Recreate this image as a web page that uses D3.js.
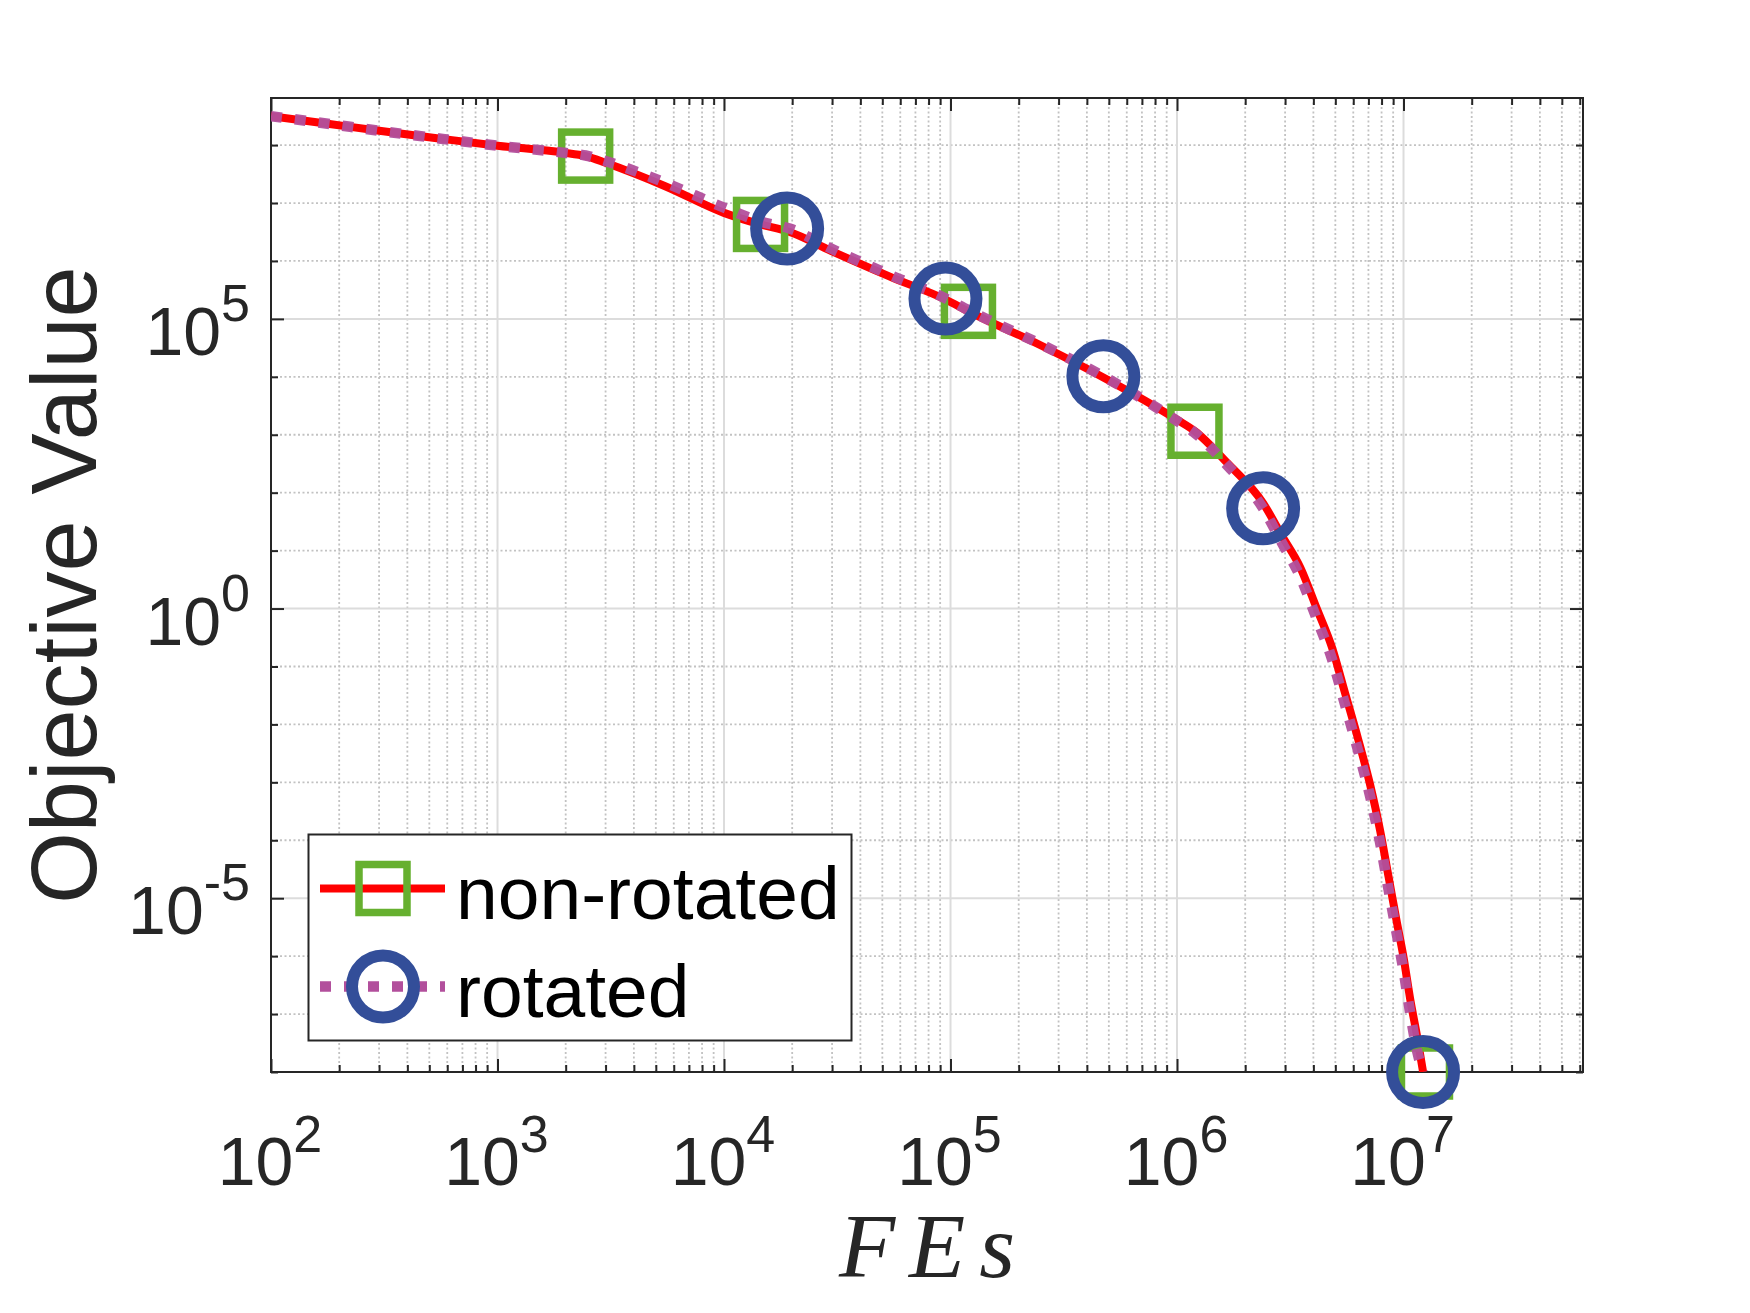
<!DOCTYPE html>
<html>
<head>
<meta charset="utf-8">
<script src="https://cdn.jsdelivr.net/npm/d3@7"></script>
<style>
  html, body { margin: 0; padding: 0; background: #fff; }
  svg { display: block; }
</style>
</head>
<body>
<svg id="chart" width="1750" height="1313"></svg>
<script>
// 横轴：函数评价次数
const fes = [1.00e2, 1.78e2, 2.95e2, 5.62e2, 1.00e3, 1.95e3, 2.45e3, 3.02e3, 5.50e3, 1.00e4,
  1.45e4, 1.95e4, 2.95e4, 5.40e4, 9.55e4, 1.20e5, 2.51e5, 4.73e5, 1.00e6, 1.20e6,
  1.66e6, 2.40e6, 2.90e6, 3.50e6, 4.14e6, 4.83e6, 5.52e6, 6.31e6, 7.13e6, 7.89e6,
  8.59e6, 9.35e6, 1.00e7, 1.07e7, 1.15e7, 1.22e7];

// 两条收敛曲线
const nonRotated = [3.16e8, 2.34e8, 1.78e8, 1.29e8, 9.77e7, 7.41e7, 6.46e7, 4.90e7, 1.95e7, 6.76e6,
  4.27e6, 3.16e6, 1.51e6, 5.37e5, 2.14e5, 1.35e5, 3.47e4, 9.77e3, 1.82e3, 1.15e3,
  331, 66.1, 18.2, 5.13, 1.00, 0.214, 3.47e-2, 5.50e-3, 8.91e-4, 1.45e-4,
  2.34e-5, 3.80e-6, 9.55e-7, 1.82e-7, 3.98e-8, 1e-8];
const rotated = [3.16e8, 2.34e8, 1.78e8, 1.29e8, 9.77e7, 7.41e7, 6.61e7, 5.25e7, 2.24e7, 8.32e6,
  4.79e6, 3.63e6, 1.66e6, 5.75e5, 2.24e5, 1.41e5, 3.63e4, 1.02e4, 1.74e3, 1.07e3,
  302, 53.7, 13.8, 3.55, 0.661, 0.135, 2.19e-2, 3.47e-3, 5.62e-4, 8.91e-5,
  1.41e-5, 2.34e-6, 5.62e-7, 1.05e-7, 2.24e-8, 1e-8];

// 标记点
const squareFes = [2.45e3, 1.45e4, 1.20e5, 1.20e6, 1.25e7];
const squareVals = [6.46e7, 4.27e6, 1.35e5, 1.15e3, 1e-8];
const circleFes = [1.90e4, 9.50e4, 4.73e5, 2.40e6, 1.22e7];
const circleVals = [3.63e6, 2.24e5, 1.02e4, 53.7, 1e-8];

// 刻度
const xMajorTicks = [1e2, 1e3, 1e4, 1e5, 1e6, 1e7];
const yMajorTicks = [1e-5, 1e0, 1e5];
const legendLabels = ['non-rotated', 'rotated'];

const svg = d3.select('#chart');
const box = { left: 271, right: 1583, top: 98, bottom: 1072 };
const sans = "'Liberation Sans', Arial, Helvetica, sans-serif";
const axisColor = '#262626';

const x = d3.scaleLog().domain([1e2, 6.2e7]).range([box.left, box.right]);
const y = d3.scaleLog().domain([1e-8, 6.5e8]).range([box.bottom, box.top]);

// 次刻度
const xMinorTicks = [];
for (let e = 2; e <= 7; e++) {
  for (let m = 2; m <= 9; m++) {
    const v = m * Math.pow(10, e);
    if (v <= x.domain()[1]) xMinorTicks.push(v);
  }
}
const yMinorTicks = [];
for (let e = -8; e <= 8; e++) {
  if (e % 5 !== 0) yMinorTicks.push(Math.pow(10, e));
}

svg.append('rect').attr('width', 1750).attr('height', 1313).attr('fill', '#fff');

// 网格
const grid = svg.append('g').attr('class', 'grid');
grid.selectAll('.gx-minor').data(xMinorTicks).join('line')
  .attr('x1', d => x(d)).attr('x2', d => x(d))
  .attr('y1', box.top).attr('y2', box.bottom)
  .attr('stroke', '#c2c2c2').attr('stroke-width', 1.8).attr('stroke-dasharray', '2,2.5');
grid.selectAll('.gy-minor').data(yMinorTicks.filter(d => d > 1e-8)).join('line')
  .attr('y1', d => y(d)).attr('y2', d => y(d))
  .attr('x1', box.left).attr('x2', box.right)
  .attr('stroke', '#c2c2c2').attr('stroke-width', 1.8).attr('stroke-dasharray', '2,2.5');
grid.selectAll('.gx-major').data(xMajorTicks.slice(1)).join('line')
  .attr('x1', d => x(d)).attr('x2', d => x(d))
  .attr('y1', box.top).attr('y2', box.bottom)
  .attr('stroke', '#dcdcdc').attr('stroke-width', 2);
grid.selectAll('.gy-major').data(yMajorTicks).join('line')
  .attr('y1', d => y(d)).attr('y2', d => y(d))
  .attr('x1', box.left).attr('x2', box.right)
  .attr('stroke', '#dcdcdc').attr('stroke-width', 2);

// 坐标轴刻度（向内）
function drawTicks (axisGen, tx, ty) {
  svg.append('g')
    .attr('transform', `translate(${tx},${ty})`)
    .attr('color', axisColor)
    .call(axisGen)
    .call(g => g.select('.domain').remove())
    .call(g => g.selectAll('text').remove())
    .call(g => g.selectAll('line').attr('stroke-width', 2));
}
[[xMajorTicks, 13], [xMinorTicks, 7]].forEach(([vals, len]) => {
  drawTicks(d3.axisBottom(x).tickValues(vals).tickSizeInner(-len).tickSizeOuter(0).tickFormat(''), 0, box.bottom);
  drawTicks(d3.axisTop(x).tickValues(vals).tickSizeInner(-len).tickSizeOuter(0).tickFormat(''), 0, box.top);
});
[[yMajorTicks, 13], [yMinorTicks, 7]].forEach(([vals, len]) => {
  drawTicks(d3.axisLeft(y).tickValues(vals).tickSizeInner(-len).tickSizeOuter(0).tickFormat(''), box.left, 0);
  drawTicks(d3.axisRight(y).tickValues(vals).tickSizeInner(-len).tickSizeOuter(0).tickFormat(''), box.right, 0);
});

svg.append('rect')
  .attr('x', box.left).attr('y', box.top)
  .attr('width', box.right - box.left).attr('height', box.bottom - box.top)
  .attr('fill', 'none').attr('stroke', axisColor).attr('stroke-width', 2);

// 刻度标签 10^n
function expText (sel, v, supDy) {
  const e = Math.round(Math.log10(v));
  sel.append('tspan').text('10');
  sel.append('tspan').attr('dy', supDy).attr('font-size', 52).text(e < 0 ? '-' + (-e) : String(e));
}
svg.selectAll('.xlabel').data(xMajorTicks).join('text')
  .attr('class', 'xlabel')
  .attr('x', d => x(d) - 1).attr('y', 1185)
  .attr('text-anchor', 'middle')
  .attr('font-family', sans).attr('font-size', 68).attr('fill', axisColor)
  .each(function (d) { expText(d3.select(this), d, -33); });
svg.selectAll('.ylabel').data(yMajorTicks).join('text')
  .attr('class', 'ylabel')
  .attr('x', 250).attr('y', d => y(d) + 36)
  .attr('text-anchor', 'end')
  .attr('font-family', sans).attr('font-size', 68).attr('fill', axisColor)
  .each(function (d) { expText(d3.select(this), d, -34); });

// 轴标题
svg.append('text')
  .attr('transform', `translate(96,${(box.top + box.bottom) / 2}) rotate(-90)`)
  .attr('text-anchor', 'middle')
  .attr('font-family', sans).attr('font-size', 92).attr('fill', axisColor)
  .text('Objective Value');
svg.append('text')
  .attr('x', (box.left + box.right) / 2).attr('y', 1277)
  .attr('text-anchor', 'middle')
  .attr('font-family', "'Liberation Serif', 'Times New Roman', serif")
  .attr('font-style', 'italic').attr('font-size', 92).attr('fill', axisColor)
  .attr('textLength', 176).attr('lengthAdjust', 'spacing')
  .text('FEs');

// 曲线
svg.append('defs').append('clipPath').attr('id', 'plot-clip')
  .append('rect')
  .attr('x', box.left).attr('y', box.top)
  .attr('width', box.right - box.left).attr('height', box.bottom - box.top);

const line = d3.line()
  .x(d => x(d[0]))
  .y(d => y(d[1]))
  .curve(d3.curveMonotoneX);

const series = [
  { name: legendLabels[0], vals: nonRotated, color: '#ff0000', width: 8, dash: null },
  { name: legendLabels[1], vals: rotated, color: '#b24f9c', width: 10.5, dash: '11,13' }
];
const green = '#66b02f';
const blue = '#334e99';

function drawSquare (g, cx, cy) {
  g.append('rect')
    .attr('x', cx - 24).attr('y', cy - 24)
    .attr('width', 48).attr('height', 48)
    .attr('fill', 'none').attr('stroke', green).attr('stroke-width', 7.5);
}
function drawCircle (g, cx, cy) {
  g.append('circle')
    .attr('cx', cx).attr('cy', cy).attr('r', 31)
    .attr('fill', 'none').attr('stroke', blue).attr('stroke-width', 12);
}

// non-rotated 线 + 方块
const g1 = svg.append('g');
g1.append('path')
  .datum(fes.map((f, i) => [f, nonRotated[i]]))
  .attr('clip-path', 'url(#plot-clip)')
  .attr('d', line)
  .attr('fill', 'none').attr('stroke', series[0].color).attr('stroke-width', series[0].width)
  .attr('stroke-linejoin', 'round');
squareFes.forEach((f, i) => drawSquare(g1, x(f), y(squareVals[i])));

// rotated 线 + 圆圈
const g2 = svg.append('g');
g2.append('path')
  .datum(fes.map((f, i) => [f, rotated[i]]))
  .attr('clip-path', 'url(#plot-clip)')
  .attr('d', line)
  .attr('fill', 'none').attr('stroke', series[1].color).attr('stroke-width', series[1].width)
  .attr('stroke-dasharray', series[1].dash).attr('stroke-opacity', 0.95);
circleFes.forEach((f, i) => drawCircle(g2, x(f), y(circleVals[i])));

// 图例
const lg = svg.append('g');
lg.append('rect')
  .attr('x', 308.5).attr('y', 834.5).attr('width', 543).attr('height', 206)
  .attr('fill', '#fff').attr('stroke', axisColor).attr('stroke-width', 2);
const rowY = [888.5, 986.5];
series.forEach((s, i) => {
  lg.append('line')
    .attr('x1', 320).attr('x2', 445).attr('y1', rowY[i]).attr('y2', rowY[i])
    .attr('stroke', s.color).attr('stroke-width', s.width)
    .attr('stroke-dasharray', s.dash);
  if (i === 0) drawSquare(lg, 383, rowY[i]);
  else drawCircle(lg, 383, rowY[i]);
  lg.append('text')
    .attr('x', 456).attr('y', rowY[i] + 30.5)
    .attr('font-family', sans).attr('font-size', 75).attr('fill', '#000')
    .text(s.name);
});
</script>
</body>
</html>
